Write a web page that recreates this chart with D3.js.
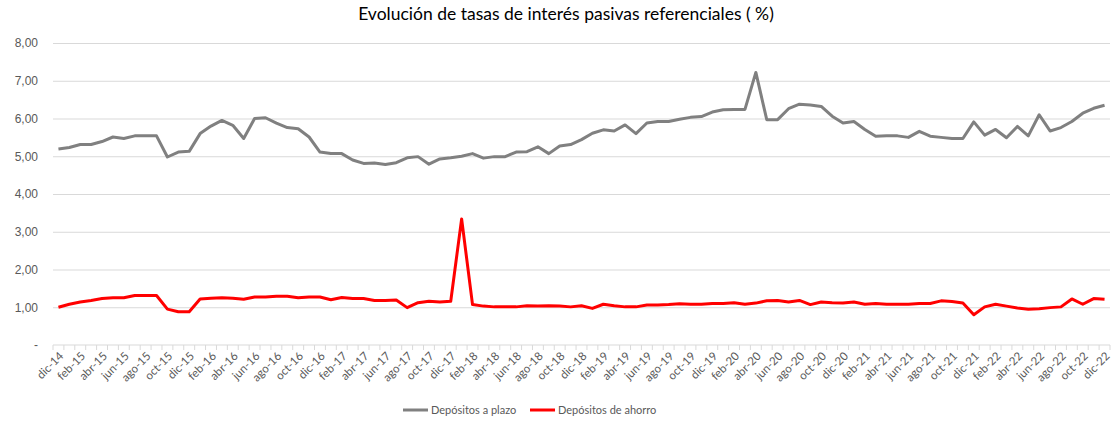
<!DOCTYPE html>
<html>
<head>
<meta charset="utf-8">
<script src="https://cdn.jsdelivr.net/npm/d3@7"></script>
<style>
  body { margin: 0; background: #fff; }
  svg { display: block; font-family: Lato, "Open Sans", sans-serif; }
</style>
</head>
<body>
<div id="chart"></div>
<script>
const width = 1111, height = 421;
const margin = {top: 43, right: 1, bottom: 76, left: 53};

const monthNames = ["ene", "feb", "mar", "abr", "may", "jun", "jul", "ago", "sep", "oct", "nov", "dic"];
const years = [14, 15, 16, 17, 18, 19, 20, 21, 22];
const yTicks = [0, 1, 2, 3, 4, 5, 6, 7, 8];
const seriesNames = ["Depósitos a plazo", "Depósitos de ahorro"];
const seriesColors = ["#808080", "#ff0000"];

// dic-14 .. dic-22
let categories = ["dic-14"];
years.slice(1).forEach(y => monthNames.forEach(m => categories.push(m + "-" + y)));

const plazo = [
  5.19, 5.23, 5.31, 5.31, 5.39, 5.51, 5.47, 5.54, 5.54, 5.54,
  4.98, 5.11, 5.13, 5.60, 5.80, 5.95, 5.82, 5.47, 6.00, 6.02,
  5.88, 5.76, 5.73, 5.51, 5.11, 5.07, 5.07, 4.90, 4.81, 4.82,
  4.78, 4.83, 4.96, 4.99, 4.79, 4.93, 4.96, 5.00, 5.07, 4.95,
  4.99, 4.99, 5.11, 5.12, 5.25, 5.07, 5.27, 5.31, 5.44, 5.61,
  5.70, 5.67, 5.83, 5.60, 5.88, 5.92, 5.92, 5.98, 6.03, 6.05,
  6.17, 6.23, 6.24, 6.24, 7.22, 5.97, 5.97, 6.26, 6.38, 6.36,
  6.32, 6.06, 5.88, 5.92, 5.71, 5.53, 5.54, 5.54, 5.50, 5.66,
  5.53, 5.50, 5.47, 5.47, 5.91, 5.56, 5.71, 5.49, 5.79, 5.54,
  6.10, 5.67, 5.76, 5.92, 6.14, 6.27, 6.35
];

const ahorro = [
  1.00, 1.08, 1.14, 1.18, 1.23, 1.25, 1.25, 1.31, 1.31, 1.31,
  0.95, 0.88, 0.88, 1.22, 1.24, 1.25, 1.24, 1.21, 1.27, 1.27,
  1.29, 1.29, 1.25, 1.27, 1.27, 1.20, 1.26, 1.23, 1.23, 1.18,
  1.18, 1.19, 0.99, 1.12, 1.16, 1.14, 1.16, 3.34, 1.07, 1.03,
  1.01, 1.01, 1.01, 1.04, 1.03, 1.04, 1.03, 1.01, 1.04, 0.97,
  1.08, 1.04, 1.01, 1.01, 1.06, 1.06, 1.07, 1.09, 1.08, 1.08,
  1.10, 1.10, 1.12, 1.08, 1.11, 1.17, 1.18, 1.14, 1.18, 1.07,
  1.14, 1.12, 1.11, 1.14, 1.08, 1.10, 1.08, 1.08, 1.08, 1.10,
  1.10, 1.17, 1.15, 1.11, 0.80, 1.01, 1.08, 1.03, 0.98, 0.95,
  0.96, 0.99, 1.01, 1.22, 1.08, 1.23, 1.21
];

const series = [plazo, ahorro];

let svg = d3.select("#chart")
            .append("svg")
            .attr("width", width)
            .attr("height", height);

let x = d3.scaleBand()
          .domain(categories)
          .range([margin.left, width - margin.right]);

let y = d3.scaleLinear()
          .domain([0, 8])
          .range([height - margin.bottom, margin.top]);

let fmt = v => v === 0 ? "-" : v.toFixed(2).replace(".", ",");

// title
svg.append("text")
   .attr("x", 566)
   .attr("y", 20)
   .attr("text-anchor", "middle")
   .style("font-size", "17.5px")
   .style("fill", "#000")
   .text("Evolución de tasas de interés pasivas referenciales ( %)");

// gridlines + y labels
svg.append("g")
   .attr("transform", "translate(" + margin.left + ",0)")
   .call(d3.axisLeft(y).tickValues(yTicks).tickFormat(fmt)
           .tickSize(-(width - margin.left - margin.right)).tickPadding(15))
   .call(g => g.select(".domain").remove())
   .call(g => g.selectAll("line").attr("stroke", d => d === 0 ? "none" : "#d9d9d9"))
   .call(g => g.selectAll("text").style("font-size", "12px").attr("fill", "#595959"));

// x axis line and tick marks at category boundaries
let xa = svg.append("g");
xa.append("line")
  .attr("x1", margin.left).attr("x2", width - margin.right)
  .attr("y1", y(0)).attr("y2", y(0))
  .attr("stroke", "#d9d9d9");
xa.selectAll(".tick")
  .data(categories.concat(["end"]))
  .enter().append("line")
  .attr("x1", (d, i) => margin.left + i * x.bandwidth())
  .attr("x2", (d, i) => margin.left + i * x.bandwidth())
  .attr("y1", y(0)).attr("y2", y(0) + 5)
  .attr("stroke", "#d9d9d9");

xa.selectAll(".xl")
  .data(categories.filter((d, i) => i % 2 === 0))
  .enter().append("text")
  .attr("transform", d => "translate(" + (x(d) + x.bandwidth() / 2 + 3) + "," + (y(0) + 9) + ") rotate(-45)")
  .attr("text-anchor", "end")
  .attr("dy", "0.35em")
  .style("font-size", "11.5px")
  .attr("fill", "#595959")
  .text(d => d);

// lines
let line = d3.line()
             .x((d, i) => x(categories[i]) + x.bandwidth() / 2)
             .y(d => y(d));

svg.append("g")
   .selectAll("path")
   .data(series)
   .enter().append("path")
   .attr("d", line)
   .attr("fill", "none")
   .attr("stroke", (d, i) => seriesColors[i])
   .attr("stroke-width", 3)
   .attr("stroke-linejoin", "round");

// legend
let legend = svg.selectAll(".legend")
  .data(seriesNames)
  .enter().append("g")
  .attr("class", "legend")
  .attr("transform", (d, i) => "translate(" + (403 + i * 127) + ",410)");

legend.append("line")
  .attr("x1", 0).attr("x2", 25)
  .attr("stroke", (d, i) => seriesColors[i])
  .attr("stroke-width", 3);

legend.append("text")
  .attr("x", 28)
  .attr("dy", "0.35em")
  .style("font-size", "11px")
  .attr("fill", "#595959")
  .text(d => d);
</script>
</body>
</html>
